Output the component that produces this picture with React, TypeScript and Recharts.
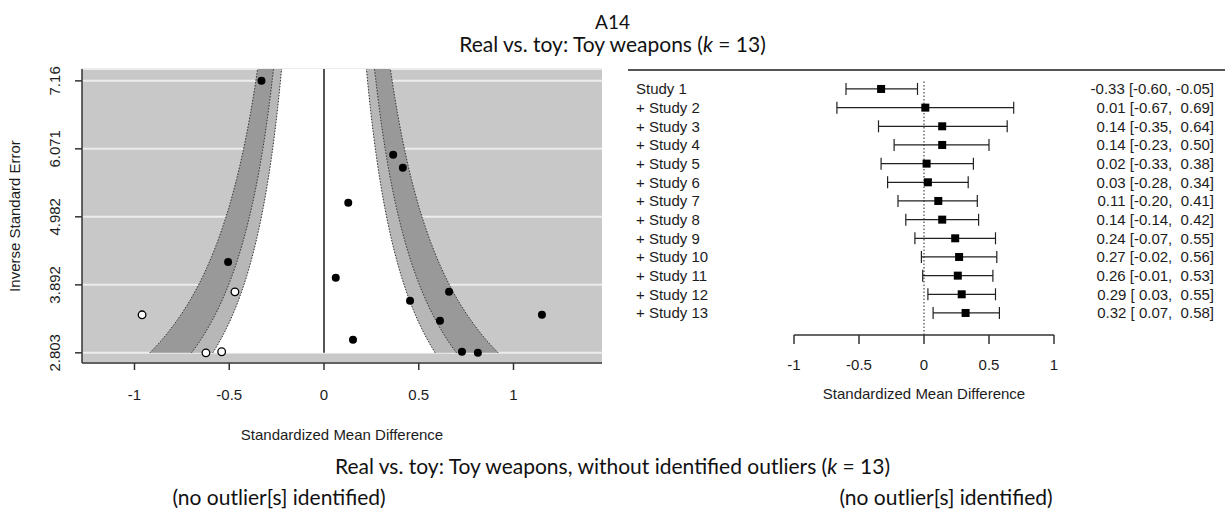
import React from 'react';
import { ComposedChart, Area, Line, Scatter, XAxis, YAxis, CartesianGrid, ReferenceLine, ErrorBar } from 'recharts';

// funnel plot points: observed studies (filled) and trim-and-fill imputed ones (open)
const observedX = [-0.33, 0.365, 0.416, 0.128, 0.062, 0.66, 0.454, 0.612, 1.15, 0.153, 0.728, 0.812, -0.506];
const observedY = [7.16, 5.975, 5.766, 5.206, 4.004, 3.78, 3.636, 3.316, 3.412, 3.012, 2.82, 2.803, 4.26];
const imputedX = [-0.96, -0.47, -0.623, -0.54];
const imputedY = [3.412, 3.78, 2.803, 2.82];
const funnelYTicks = [2.803, 3.892, 4.982, 6.071, 7.16];
const funnelXTicks = [-1, -0.5, 0, 0.5, 1];
const contourZ = [1.645, 1.96, 2.576]; // 90 / 95 / 99 % contours around 0

// cumulative forest plot
const studies = ['Study 1', '+ Study 2', '+ Study 3', '+ Study 4', '+ Study 5', '+ Study 6', '+ Study 7',
  '+ Study 8', '+ Study 9', '+ Study 10', '+ Study 11', '+ Study 12', '+ Study 13'];
const cumEst = [-0.33, 0.01, 0.14, 0.14, 0.02, 0.03, 0.11, 0.14, 0.24, 0.27, 0.26, 0.29, 0.32];
const cumLo = [-0.60, -0.67, -0.35, -0.23, -0.33, -0.28, -0.20, -0.14, -0.07, -0.02, -0.01, 0.03, 0.07];
const cumHi = [-0.05, 0.69, 0.64, 0.50, 0.38, 0.34, 0.41, 0.42, 0.55, 0.56, 0.53, 0.55, 0.58];
const forestTicks = [-1, -0.5, 0, 0.5, 1];

const FUNNEL_X_DOMAIN = [-1.277, 1.467];
const FUNNEL_Y_DOMAIN = [2.64, 7.35];

const observed = observedX.map((x, i) => ({ x, y: observedY[i] }));
const imputed = imputedX.map((x, i) => ({ x, y: imputedY[i] }));

// contour bands, x = +-z * SE with SE = 1 / y
const contourRows = Array.from({ length: 60 }, (_, i) => {
  const y = funnelYTicks[0] + ((FUNNEL_Y_DOMAIN[1] - funnelYTicks[0]) * i) / 59;
  const [z1, z2, z3] = contourZ.map(z => z / y);
  return {
    y,
    white: [-z1, z1],
    lightL: [-z2, -z1],
    lightR: [z1, z2],
    darkL: [-z3, -z2],
    darkR: [z2, z3],
    e1L: -z1, e2L: -z2, e3L: -z3,
    e1R: z1, e2R: z2, e3R: z3,
  };
});

const fmt = (v: number) => (v < 0 ? '' : ' ') + v.toFixed(2);
const forestRows = cumEst.map((est, i) => ({
  row: i + 1,
  est,
  err: [est - cumLo[i], cumHi[i] - est],
  text: `${fmt(est)} [${fmt(cumLo[i])}, ${fmt(cumHi[i])}]`,
}));

const R_FONT = 'Liberation Sans, Arial, Helvetica, sans-serif';
const INK = '#1c1c1c';

function FunnelYTick({ x, y, payload }: any) {
  return (
    <text x={x} y={y} transform={`rotate(-90 ${x} ${y})`} textAnchor="middle" fontSize={15} fontFamily={R_FONT} fill={INK}>
      {payload.value}
    </text>
  );
}

function StudyTick({ y, payload }: any) {
  return (
    <text x={36} y={y} dy="0.355em" textAnchor="start" fontSize={15} fontFamily={R_FONT} fill={INK}>
      {studies[payload.value - 1]}
    </text>
  );
}

function EstimateTick({ y, payload }: any) {
  return (
    <text x={614} y={y} dy="0.355em" textAnchor="end" fontSize={15} fontFamily={R_FONT} fill={INK} style={{ whiteSpace: 'pre' }}>
      {forestRows[payload.value - 1].text}
    </text>
  );
}

const Dot = (p: any) => <circle cx={p.cx} cy={p.cy} r={4} fill="#000" />;
const OpenDot = (p: any) => <circle cx={p.cx} cy={p.cy} r={3.8} fill="#fff" stroke="#000" strokeWidth={1.3} />;
const Square = (p: any) => <rect x={p.cx - 4} y={p.cy - 4} width={8} height={8} fill="#000" />;

const edge = { stroke: '#333', strokeWidth: 1, strokeDasharray: '1.5 1.5', dot: false, activeDot: false, isAnimationActive: false } as const;

export default function App() {
  return (
    <div style={styles.page}>
      <div style={{ ...styles.heading, top: 12, fontSize: 19 }}>A14</div>
      <div style={{ ...styles.heading, top: 33, fontSize: 21 }}>Real vs. toy: Toy weapons (<i>k</i> = 13)</div>

      <div style={{ position: 'absolute', left: 0, top: 0 }}>
        <ComposedChart width={620} height={450} layout="vertical" data={contourRows} margin={{ top: 69, right: 18, bottom: 0, left: 0 }}>
          <CartesianGrid fill="#c8c8c8" fillOpacity={1} vertical={false} stroke="#ececec" strokeWidth={2} />
          <XAxis
            type="number"
            dataKey="x"
            domain={FUNNEL_X_DOMAIN}
            ticks={funnelXTicks}
            allowDataOverflow
            height={87}
            tickSize={7}
            tickMargin={19}
            stroke="#333"
            strokeWidth={1.5}
            tick={{ fontSize: 15, fontFamily: R_FONT, fill: INK }}
            label={{ value: 'Standardized Mean Difference', position: 'insideBottom', offset: 10, fontSize: 15, fontFamily: R_FONT, fill: INK }}
          />
          <YAxis
            type="number"
            dataKey="y"
            domain={FUNNEL_Y_DOMAIN}
            ticks={funnelYTicks}
            reversed
            allowDataOverflow
            width={82}
            tickSize={7}
            tickMargin={15}
            stroke="#333"
            strokeWidth={1.5}
            tick={<FunnelYTick />}
            label={{ value: 'Inverse Standard Error', angle: -90, position: 'insideLeft', offset: 15, fontSize: 15, fontFamily: R_FONT, fill: INK, style: { textAnchor: 'middle' } }}
          />
          <Area dataKey="white" type="linear" fill="#ffffff" fillOpacity={1} stroke="none" isAnimationActive={false} />
          <Area dataKey="lightL" type="linear" fill="#b7b7b7" fillOpacity={1} stroke="none" isAnimationActive={false} />
          <Area dataKey="lightR" type="linear" fill="#b7b7b7" fillOpacity={1} stroke="none" isAnimationActive={false} />
          <Area dataKey="darkL" type="linear" fill="#999999" fillOpacity={1} stroke="none" isAnimationActive={false} />
          <Area dataKey="darkR" type="linear" fill="#999999" fillOpacity={1} stroke="none" isAnimationActive={false} />
          <Line dataKey="e1L" {...edge} />
          <Line dataKey="e2L" {...edge} />
          <Line dataKey="e3L" {...edge} />
          <Line dataKey="e1R" {...edge} />
          <Line dataKey="e2R" {...edge} />
          <Line dataKey="e3R" {...edge} />
          <ReferenceLine segment={[{ x: 0, y: funnelYTicks[0] }, { x: 0, y: FUNNEL_Y_DOMAIN[1] }]} stroke="#555" strokeWidth={2} />
          <Scatter data={observed} shape={Dot} isAnimationActive={false} />
          <Scatter data={imputed} shape={OpenDot} isAnimationActive={false} />
        </ComposedChart>
      </div>

      <div style={{ position: 'absolute', left: 628, top: 69, width: 597, borderTop: '2px solid #555' }} />

      <div style={{ position: 'absolute', left: 600, top: 0 }}>
        <ComposedChart width={625} height={420} data={forestRows} margin={{ top: 80, right: 0, bottom: 0, left: 0 }}>
          <XAxis
            type="number"
            dataKey="est"
            domain={[-1, 1]}
            ticks={forestTicks}
            height={85}
            tickSize={9}
            tickMargin={15}
            stroke="#333"
            strokeWidth={1.5}
            tick={{ fontSize: 15, fontFamily: R_FONT, fill: INK }}
            label={{ value: 'Standardized Mean Difference', position: 'insideBottom', offset: 21, fontSize: 15, fontFamily: R_FONT, fill: INK }}
          />
          <YAxis yAxisId="left" type="number" dataKey="row" domain={[0.52, 14.18]} reversed ticks={forestRows.map(r => r.row)} interval={0} width={194} axisLine={false} tickLine={false} tick={<StudyTick />} />
          <YAxis yAxisId="right" orientation="right" type="number" dataKey="row" domain={[0.52, 14.18]} reversed ticks={forestRows.map(r => r.row)} interval={0} width={171} axisLine={false} tickLine={false} tick={<EstimateTick />} />
          <ReferenceLine x={0} yAxisId="left" stroke="#222" strokeDasharray="1.5 2" />
          <Scatter yAxisId="left" data={forestRows} shape={Square} isAnimationActive={false}>
            <ErrorBar dataKey="err" direction="x" width={6} stroke="#222" strokeWidth={1.2} />
          </Scatter>
        </ComposedChart>
      </div>

      <div style={{ ...styles.heading, top: 455, fontSize: 21 }}>Real vs. toy: Toy weapons, without identified outliers (<i>k</i> = 13)</div>
      <div style={{ ...styles.caption, left: 279 }}>(no outlier[s] identified)</div>
      <div style={{ ...styles.caption, left: 946 }}>(no outlier[s] identified)</div>
    </div>
  );
}

const styles: Record<string, React.CSSProperties> = {
  page: { position: 'absolute', left: 0, top: 0, width: 1225, height: 509, background: '#fff', overflow: 'hidden', fontFamily: R_FONT },
  heading: { position: 'absolute', left: 0, width: 1225, textAlign: 'center', fontFamily: 'Lato, sans-serif', color: '#111', lineHeight: 1, whiteSpace: 'nowrap' },
  caption: { position: 'absolute', top: 486, transform: 'translateX(-50%)', fontFamily: 'Lato, sans-serif', fontSize: 21, color: '#111', lineHeight: 1, whiteSpace: 'nowrap' },
};
